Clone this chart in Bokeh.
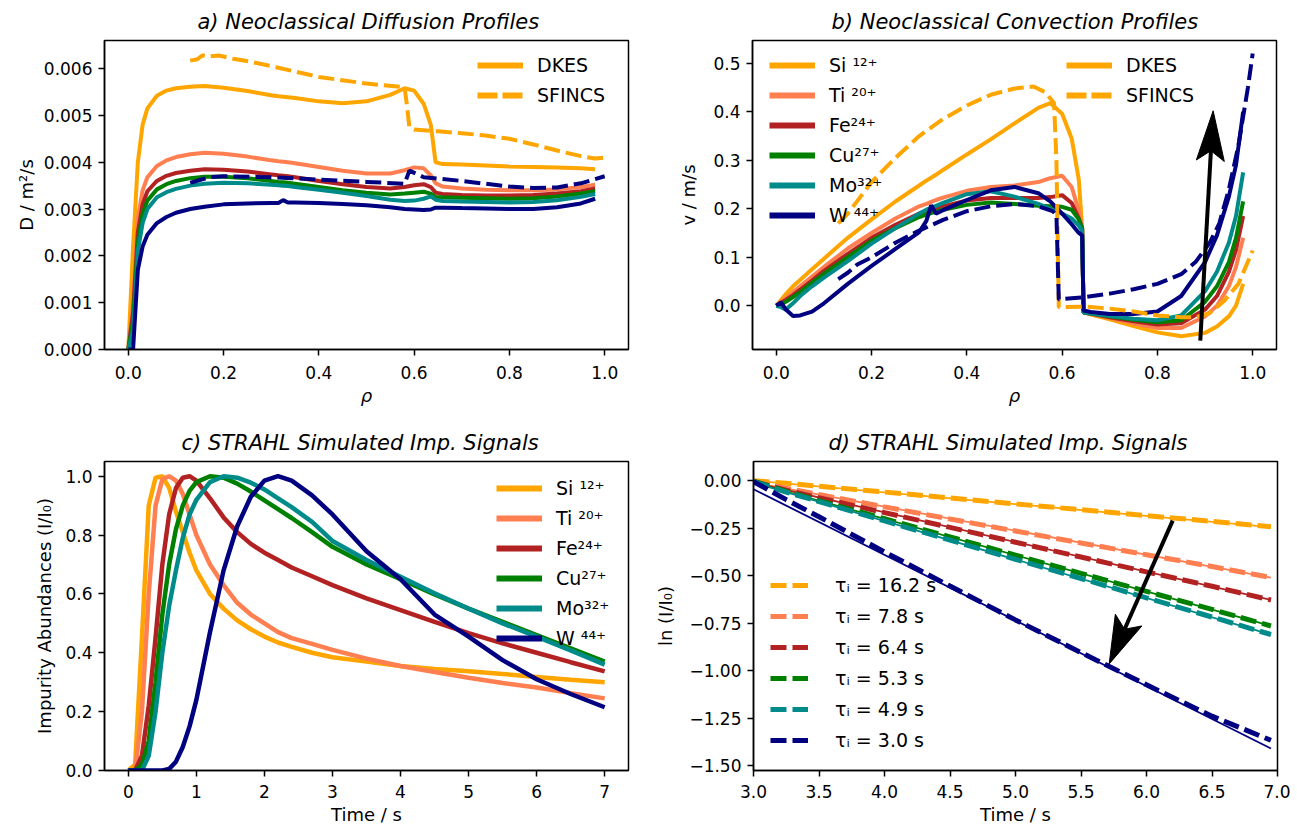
import math
from bokeh.plotting import figure
from bokeh.layouts import column, row
from bokeh.models import FixedTicker, Legend, LegendItem, Range1d, Title
from bokeh.embed import file_html
from bokeh.resources import INLINE

FONT = "DejaVu Sans"
NAN = float("nan")

# ---------------- data ----------------
species = ["Si ¹²⁺", "Ti ²⁰⁺", "Fe²⁴⁺", "Cu²⁷⁺", "Mo³²⁺", "W ⁴⁴⁺"]
colors = ["#FFA500", "#FF7F50", "#B22222", "#008000", "#008B8B", "#000080"]

# panel a: diffusion D (in units of 1e-3 m^2/s) vs rho (DKES)
rho_a = [0.0, 0.01, 0.02, 0.03, 0.04, 0.06, 0.08, 0.1, 0.13, 0.16, 0.2, 0.25, 0.3, 0.315, 0.325, 0.335, 0.35,
         0.4, 0.45, 0.5, 0.55, 0.58, 0.6, 0.62, 0.635, 0.645, 0.66, 0.7, 0.75, 0.8, 0.85, 0.9, 0.95, 0.98]
D_si = [0.0, 2.2, 4.0, 4.8, 5.15, 5.42, 5.53, 5.58, 5.61, 5.63, 5.59, 5.52, 5.43, 5.41, 5.40, 5.39, 5.37,
        5.3, 5.26, 5.3, 5.44, 5.58, 5.53, 5.25, 4.8, 4.0, 3.96, 3.95, 3.93, 3.91, 3.9, 3.89, 3.87, 3.85]
D_ti = [0.0, 1.0, 2.8, 3.4, 3.68, 3.92, 4.04, 4.11, 4.17, 4.2, 4.18, 4.12, 4.04, 4.02, 4.01, 4.0, 3.98,
        3.9, 3.82, 3.76, 3.76, 3.83, 3.89, 3.87, 3.72, 3.55, 3.48, 3.44, 3.41, 3.4, 3.4, 3.42, 3.47, 3.52]
D_fe = [0.0, 0.8, 2.5, 3.1, 3.38, 3.6, 3.71, 3.77, 3.82, 3.85, 3.84, 3.8, 3.74, 3.72, 3.71, 3.7, 3.68,
        3.6, 3.53, 3.47, 3.44, 3.47, 3.51, 3.53, 3.47, 3.35, 3.32, 3.3, 3.29, 3.29, 3.3, 3.33, 3.38, 3.44]
D_cu = [0.0, 0.6, 2.3, 2.9, 3.18, 3.42, 3.53, 3.6, 3.66, 3.69, 3.69, 3.66, 3.6, 3.58, 3.57, 3.56, 3.54,
        3.47, 3.4, 3.35, 3.31, 3.33, 3.35, 3.37, 3.33, 3.26, 3.25, 3.24, 3.23, 3.22, 3.23, 3.27, 3.33, 3.38]
D_mo = [0.0, 0.4, 2.1, 2.7, 3.0, 3.25, 3.36, 3.43, 3.5, 3.54, 3.56, 3.55, 3.52, 3.51, 3.5, 3.49, 3.47,
        3.41, 3.35, 3.28, 3.2, 3.17, 3.18, 3.22, 3.27, 3.2, 3.17, 3.16, 3.15, 3.14, 3.15, 3.19, 3.26, 3.32]
D_w = [0.0, 0.0, 1.7, 2.2, 2.45, 2.7, 2.83, 2.92, 3.0, 3.05, 3.1, 3.12, 3.13, 3.13, 3.19, 3.14, 3.14,
       3.13, 3.11, 3.08, 3.04, 3.0, 2.99, 2.98, 2.99, 3.03, 3.03, 3.02, 3.01, 3.0, 3.0, 3.04, 3.12, 3.22]
# SFINCS (dashed) in panel a
rho_a_sf_si = [0.13, 0.145, 0.155, 0.17, 0.19, 0.22, 0.26, 0.31, 0.4, 0.5, 0.58, 0.585, 0.59, 0.6, 0.65,
               0.7, 0.75, 0.8, 0.85, 0.9, 0.95, 0.98, 1.0]
D_sf_si = [6.17, 6.2, 6.28, 6.26, 6.28, 6.21, 6.14, 6.03, 5.82, 5.68, 5.6, 5.2, 4.75, 4.7, 4.66,
           4.62, 4.57, 4.5, 4.38, 4.25, 4.13, 4.08, 4.1]
rho_a_sf_w = [0.13, 0.15, 0.17, 0.2, 0.3, 0.4, 0.5, 0.58, 0.59, 0.62, 0.7, 0.8, 0.85, 0.9, 0.95, 1.0]
D_sf_w = [3.56, 3.62, 3.68, 3.7, 3.68, 3.63, 3.58, 3.54, 3.82, 3.68, 3.6, 3.48, 3.45, 3.46, 3.55, 3.7]

# panel b: convection v (m/s) vs rho (DKES)
rho_b = [0.0, 0.01, 0.02, 0.035, 0.05, 0.075, 0.1, 0.15, 0.2, 0.25, 0.3, 0.315, 0.325, 0.335, 0.35, 0.4,
         0.45, 0.5, 0.55, 0.575, 0.6, 0.62, 0.635, 0.642, 0.645, 0.66, 0.7, 0.75, 0.8, 0.85, 0.9, 0.925,
         0.95, 0.965, 0.98]
v_si = [0.0, 0.012, 0.024, 0.04, 0.053, 0.075, 0.097, 0.14, 0.178, 0.215, 0.248, 0.258, 0.264, 0.27, 0.28,
        0.312, 0.343, 0.376, 0.408, 0.418, 0.396, 0.345, 0.26, 0.16, -0.014, -0.018, -0.028, -0.042, -0.055,
        -0.063, -0.056, -0.043, -0.022, 0.0, 0.045]
v_ti = [0.0, 0.008, 0.016, 0.028, 0.04, 0.06, 0.08, 0.118, 0.15, 0.18, 0.205, 0.21, 0.214, 0.218, 0.223,
        0.237, 0.245, 0.248, 0.255, 0.263, 0.268, 0.245, 0.195, 0.16, -0.014, -0.017, -0.025, -0.036, -0.046,
        -0.046, -0.022, 0.0, 0.04, 0.08, 0.14]
v_fe = [0.0, 0.006, 0.012, 0.022, 0.033, 0.052, 0.072, 0.107, 0.14, 0.167, 0.19, 0.195, 0.198, 0.201, 0.205,
        0.217, 0.222, 0.222, 0.222, 0.224, 0.228, 0.212, 0.18, 0.16, -0.014, -0.016, -0.024, -0.032, -0.039,
        -0.036, -0.008, 0.02, 0.07, 0.115, 0.185]
v_cu = [0.0, 0.003, 0.008, 0.018, 0.028, 0.047, 0.066, 0.1, 0.134, 0.16, 0.183, 0.188, 0.191, 0.194, 0.198,
        0.208, 0.213, 0.21, 0.206, 0.205, 0.204, 0.198, 0.178, 0.16, -0.014, -0.016, -0.022, -0.029, -0.034,
        -0.03, 0.008, 0.04, 0.09, 0.14, 0.215]
v_mo = [0.0, -0.003, -0.008, 0.005, 0.02, 0.04, 0.058, 0.092, 0.128, 0.16, 0.19, 0.198, 0.202, 0.206, 0.212,
        0.23, 0.236, 0.225, 0.21, 0.2, 0.19, 0.18, 0.165, 0.155, -0.014, -0.016, -0.021, -0.027, -0.03,
        -0.02, 0.03, 0.07, 0.13, 0.185, 0.275]
v_w = [0.0, 0.007, -0.008, -0.021, -0.02, -0.012, 0.005, 0.045, 0.082, 0.117, 0.152, 0.175, 0.207, 0.19, 0.197,
       0.218, 0.238, 0.245, 0.232, 0.215, 0.19, 0.168, 0.15, 0.145, -0.01, -0.013, -0.017, -0.017, -0.012,
       0.02, 0.09, 0.145, 0.225, 0.29, 0.40]
# SFINCS (dashed) in panel b
rho_b_sf_si = [0.13, 0.15, 0.2, 0.25, 0.3, 0.35, 0.4, 0.45, 0.5, 0.54, 0.565, 0.583, 0.588, 0.593, 0.6,
               0.65, 0.7, 0.75, 0.8, 0.85, 0.88, 0.91, 0.94, 0.97, 1.0]
v_sf_si = [0.17, 0.19, 0.255, 0.305, 0.35, 0.385, 0.413, 0.435, 0.448, 0.452, 0.44, 0.418, 0.3, -0.003, -0.003,
           -0.002, -0.006, -0.012, -0.02, -0.024, -0.024, -0.015, 0.01, 0.045, 0.114]
rho_b_sf_w = [0.13, 0.15, 0.17, 0.2, 0.25, 0.3, 0.35, 0.4, 0.45, 0.5, 0.55, 0.58, 0.588, 0.593, 0.65, 0.7,
              0.75, 0.8, 0.85, 0.88, 0.91, 0.93, 0.95, 0.97, 0.99, 1.0]
v_sf_w = [0.055, 0.068, 0.085, 0.1, 0.13, 0.155, 0.177, 0.195, 0.205, 0.21, 0.205, 0.195, 0.188, 0.013, 0.018,
          0.025, 0.034, 0.045, 0.065, 0.09, 0.13, 0.17, 0.24, 0.33, 0.45, 0.52]
arrow_b_x = [0.89, 0.917]
arrow_b_y = [-0.072, 0.402]

# panel c: normalised impurity signals vs time
t_c = [0, 0.1, 0.2, 0.3, 0.4, 0.5, 0.6, 0.7, 0.8, 0.9, 1.0, 1.2, 1.4, 1.6, 1.8, 2.0, 2.2, 2.4, 2.7, 3.0,
       3.5, 4.0, 4.5, 5.0, 5.5, 6.0, 6.5, 7.0]
I_si = [0, 0.02, 0.45, 0.9, 0.995, 1.0, 0.96, 0.88, 0.81, 0.74, 0.68, 0.6, 0.55, 0.51, 0.48, 0.455, 0.435,
        0.42, 0.4, 0.385, 0.37, 0.355, 0.345, 0.337, 0.328, 0.318, 0.308, 0.3]
I_ti = [0, 0.0, 0.2, 0.6, 0.9, 0.99, 1.0, 0.985, 0.94, 0.87, 0.8, 0.7, 0.63, 0.57, 0.53, 0.5, 0.47, 0.45,
        0.43, 0.41, 0.38, 0.355, 0.335, 0.315, 0.297, 0.282, 0.263, 0.245]
I_fe = [0, 0.0, 0.05, 0.22, 0.45, 0.7, 0.87, 0.96, 0.995, 1.0, 0.985, 0.925, 0.86, 0.81, 0.77, 0.74, 0.715,
        0.69, 0.66, 0.63, 0.585, 0.545, 0.505, 0.467, 0.432, 0.4, 0.368, 0.337]
I_cu = [0, 0, 0.02, 0.1, 0.3, 0.53, 0.7, 0.82, 0.9, 0.95, 0.98, 1.0, 0.995, 0.975, 0.948, 0.918, 0.888,
        0.858, 0.81, 0.76, 0.7, 0.65, 0.598, 0.55, 0.505, 0.46, 0.415, 0.37]
I_mo = [0, 0, 0.0, 0.05, 0.2, 0.4, 0.56, 0.68, 0.79, 0.87, 0.92, 0.98, 1.0, 0.995, 0.978, 0.955, 0.925,
        0.895, 0.845, 0.78, 0.715, 0.658, 0.602, 0.55, 0.5, 0.455, 0.408, 0.36]
I_w = [0, 0, 0, 0, 0, 0, 0.005, 0.03, 0.08, 0.15, 0.24, 0.47, 0.68, 0.83, 0.93, 0.985, 1.0, 0.985, 0.935,
       0.87, 0.745, 0.65, 0.53, 0.455, 0.375, 0.31, 0.26, 0.215]

# panel d: ln(I/I0) vs time (data dashed, fit thin)
t_d = [3.0, 3.25, 3.5, 4.0, 4.5, 5.0, 5.5, 6.0, 6.5, 6.95]
L_si = [0.0, -0.014, -0.029, -0.06, -0.091, -0.122, -0.153, -0.184, -0.214, -0.243]
L_ti = [-0.005, -0.04, -0.073, -0.138, -0.202, -0.265, -0.328, -0.39, -0.452, -0.51]
L_fe = [-0.005, -0.05, -0.09, -0.168, -0.246, -0.324, -0.402, -0.48, -0.556, -0.628]
L_cu = [-0.003, -0.056, -0.105, -0.2, -0.296, -0.392, -0.488, -0.583, -0.678, -0.765]
L_mo = [-0.005, -0.06, -0.11, -0.212, -0.313, -0.414, -0.515, -0.617, -0.718, -0.81]
L_w = [-0.005, -0.1, -0.19, -0.375, -0.555, -0.733, -0.905, -1.075, -1.24, -1.367]
fit_t = [3.0, 6.95]
fit_start = [0.0, -0.01, -0.01, -0.01, -0.01, -0.045]
fit_end = [-0.244, -0.51, -0.628, -0.765, -0.81, -1.41]
tau_labels = ["τᵢ = 16.2 s", "τᵢ = 7.8 s", "τᵢ = 6.4 s", "τᵢ = 5.3 s", "τᵢ = 4.9 s", "τᵢ = 3.0 s"]
arrow_d_x = [6.2, 5.715]
arrow_d_y = [-0.21, -0.965]

# axis ticks / labels
rho_ticks = [0.0, 0.2, 0.4, 0.6, 0.8, 1.0]
rho_tick_labels = ["0.0", "0.2", "0.4", "0.6", "0.8", "1.0"]
D_ticks = [0.0, 1.0, 2.0, 3.0, 4.0, 5.0, 6.0]
D_tick_labels = ["0.000", "0.001", "0.002", "0.003", "0.004", "0.005", "0.006"]
v_ticks = [0.0, 0.1, 0.2, 0.3, 0.4, 0.5]
v_tick_labels = ["0.0", "0.1", "0.2", "0.3", "0.4", "0.5"]
tc_ticks = [0, 1, 2, 3, 4, 5, 6, 7]
tc_tick_labels = ["0", "1", "2", "3", "4", "5", "6", "7"]
I_ticks = [0.0, 0.2, 0.4, 0.6, 0.8, 1.0]
I_tick_labels = ["0.0", "0.2", "0.4", "0.6", "0.8", "1.0"]
td_ticks = [3.0, 3.5, 4.0, 4.5, 5.0, 5.5, 6.0, 6.5, 7.0]
td_tick_labels = ["3.0", "3.5", "4.0", "4.5", "5.0", "5.5", "6.0", "6.5", "7.0"]
L_ticks = [0.0, -0.25, -0.5, -0.75, -1.0, -1.25, -1.5]
L_tick_labels = ["0.00", "−0.25", "−0.50", "−0.75", "−1.00", "−1.25", "−1.50"]

# ---------------- styling helpers ----------------
FW, FH = 524, 309


def make_fig(title, title_x, xr, yr, bl, br, bt, bb):
    p = figure(frame_width=FW, frame_height=FH, x_range=Range1d(*xr), y_range=Range1d(*yr),
               output_backend="svg", toolbar_location=None,
               min_border_left=bl, min_border_right=br, min_border_top=bt, min_border_bottom=bb)
    p.title = Title(text=title, align="left", offset=title_x, text_font=FONT, text_font_style="italic",
                    text_font_size="21px", text_color="black", standoff=14)
    p.grid.visible = False
    p.outline_line_color = "black"
    p.outline_line_width = 1.5
    p.outline_line_alpha = 1.0
    p.background_fill_color = "white"
    p.border_fill_color = "white"
    return p


def style_axis(ax, ticks, labels, label, italic=False, lab_standoff=3, ax_standoff=8):
    ax.ticker = FixedTicker(ticks=ticks)
    ax.major_label_overrides = dict(zip(ticks, labels))
    ax.minor_tick_line_color = None
    ax.major_tick_in = 0
    ax.major_tick_out = 6
    ax.major_tick_line_width = 1.5
    ax.major_tick_line_color = "black"
    ax.axis_line_width = 1.5
    ax.axis_line_color = "black"
    ax.major_label_text_font = FONT
    ax.major_label_text_font_size = "17px"
    ax.major_label_text_color = "black"
    ax.major_label_standoff = lab_standoff
    ax.axis_label = label
    ax.axis_label_text_font = FONT
    ax.axis_label_text_font_size = "18px"
    ax.axis_label_text_font_style = "italic" if italic else "normal"
    ax.axis_label_text_color = "black"
    ax.axis_label_standoff = ax_standoff


def legend_key(p, color, dash="solid", width=6):
    # a one-point (NaN) line that only serves as a legend key
    return p.line([NAN], [NAN], line_color=color, line_width=width, line_dash=dash)


def add_legend(p, entries, loc, glyph_width=46, standoff=14, spacing=8):
    items = [LegendItem(label=lab, renderers=[r]) for lab, r in entries]
    leg = Legend(items=items, location=loc, border_line_color=None, background_fill_alpha=0.0,
                 label_text_font=FONT, label_text_font_size="19px", label_text_color="black",
                 glyph_width=glyph_width, glyph_height=20, label_height=20, label_standoff=standoff,
                 spacing=spacing, padding=6, margin=0)
    p.add_layout(leg)


def draw_arrow(p, xs, ys, xr, yr, head_len=48, head_w=28, notch=10, shaft=4):
    kx = FW / (xr[1] - xr[0])
    ky = FH / (yr[1] - yr[0])
    dx = (xs[1] - xs[0]) * kx
    dy = (ys[1] - ys[0]) * ky
    L = math.hypot(dx, dy)
    ux, uy = dx / L, dy / L
    nx, ny = -uy, ux
    pts = [(0.0, 0.0),
           (-ux * head_len + nx * head_w / 2, -uy * head_len + ny * head_w / 2),
           (-ux * (head_len - notch), -uy * (head_len - notch)),
           (-ux * head_len - nx * head_w / 2, -uy * head_len - ny * head_w / 2)]
    px = [xs[1] + a / kx for a, b in pts]
    py = [ys[1] + b / ky for a, b in pts]
    p.line([xs[0], px[2]], [ys[0], py[2]], line_color="black", line_width=shaft)
    p.patch(px, py, fill_color="black", line_color="black", line_width=1)


# ---------------- panel a ----------------
xr_a = (-0.05, 1.05)
yr_a = (0.0, 6.6)
pa = make_fig("a) Neoclassical Diffusion Profiles", 93, xr_a, yr_a, 104, 24, 40, 57)
for yv, c in zip([D_si, D_ti, D_fe, D_cu, D_mo, D_w], colors):
    pa.line(rho_a, yv, line_color=c, line_width=4)
pa.line(rho_a_sf_si, D_sf_si, line_color=colors[0], line_width=4, line_dash="16 6")
pa.line(rho_a_sf_w, D_sf_w, line_color=colors[5], line_width=4, line_dash="16 6")
add_legend(pa, [("DKES", legend_key(pa, colors[0])), ("SFINCS", legend_key(pa, colors[0], "20 5"))],
           (373, 243))
style_axis(pa.xaxis[0], rho_ticks, rho_tick_labels, "ρ", italic=True, lab_standoff=10, ax_standoff=3)
style_axis(pa.yaxis[0], D_ticks, D_tick_labels, "D / m²/s", lab_standoff=6, ax_standoff=4)

# ---------------- panel b ----------------
xr_b = (-0.05, 1.05)
yr_b = (-0.0903, 0.547)
pb = make_fig("b) Neoclassical Convection Profiles", 79, xr_b, yr_b, 100, 13, 40, 57)
for yv, c in zip([v_si, v_ti, v_fe, v_cu, v_mo, v_w], colors):
    pb.line(rho_b, yv, line_color=c, line_width=4)
pb.line(rho_b_sf_si, v_sf_si, line_color=colors[0], line_width=4, line_dash="16 6")
pb.line(rho_b_sf_w, v_sf_w, line_color=colors[5], line_width=4, line_dash="16 6")
draw_arrow(pb, arrow_b_x, arrow_b_y, xr_b, yr_b, head_len=50, head_w=28, notch=10, shaft=4)
add_legend(pb, [(s, legend_key(pb, c)) for s, c in zip(species, colors)], (17, 123))
add_legend(pb, [("DKES", legend_key(pb, colors[0])), ("SFINCS", legend_key(pb, colors[0], "20 5"))],
           (314, 243))
style_axis(pb.xaxis[0], rho_ticks, rho_tick_labels, "ρ", italic=True, lab_standoff=10, ax_standoff=3)
style_axis(pb.yaxis[0], v_ticks, v_tick_labels, "v / m/s", lab_standoff=6, ax_standoff=11)

# ---------------- panel c ----------------
xr_c = (-0.35, 7.35)
yr_c = (0.0, 1.05)
pc = make_fig("c) STRAHL Simulated Imp. Signals", 77, xr_c, yr_c, 104, 24, 53, 58)
for yv, c in zip([I_si, I_ti, I_fe, I_cu, I_mo, I_w], colors):
    pc.line(t_c, yv, line_color=c, line_width=4.5)
add_legend(pc, [(s, legend_key(pc, c)) for s, c in zip(species, colors)], (392, 121))
style_axis(pc.xaxis[0], tc_ticks, tc_tick_labels, "Time / s", lab_standoff=8, ax_standoff=3)
style_axis(pc.yaxis[0], I_ticks, I_tick_labels, "Impurity Abundances (I/I₀)", lab_standoff=6, ax_standoff=7)

# ---------------- panel d ----------------
xr_d = (3.0, 7.0)
yr_d = (-1.526, 0.101)
pd_ = make_fig("d) STRAHL Simulated Imp. Signals", 75, xr_d, yr_d, 100, 13, 53, 58)
for s0, s1, c in zip(fit_start, fit_end, colors):
    pd_.line(fit_t, [s0, s1], line_color=c, line_width=1.8)
leg_d = []
for yv, c, lab in zip([L_si, L_ti, L_fe, L_cu, L_mo, L_w], colors, tau_labels):
    r = pd_.line(t_d, yv, line_color=c, line_width=5, line_dash="16 6")
    leg_d.append((lab, r))
draw_arrow(pd_, arrow_d_x, arrow_d_y, xr_d, yr_d, head_len=48, head_w=29, notch=10, shaft=4)
add_legend(pd_, leg_d, (17, 19), glyph_width=38, standoff=27, spacing=9)
style_axis(pd_.xaxis[0], td_ticks, td_tick_labels, "Time / s", lab_standoff=8, ax_standoff=3)
style_axis(pd_.yaxis[0], L_ticks, L_tick_labels, "ln (I/I₀)", lab_standoff=6, ax_standoff=10)

layout = column(row(pa, pb), row(pc, pd_))
open("out.html", "w").write(file_html(layout, INLINE))
